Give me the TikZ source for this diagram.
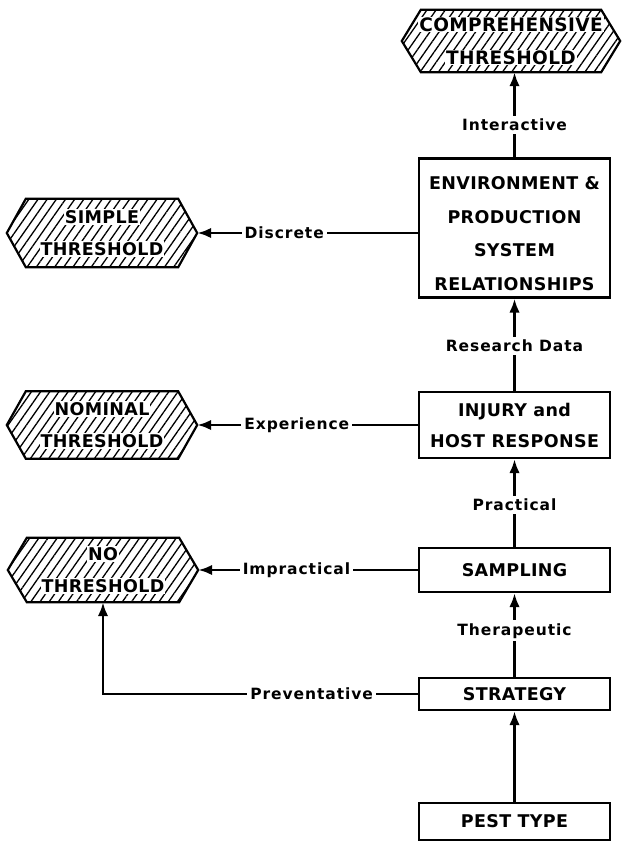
\documentclass[tikz,border=0pt]{standalone}
\usepackage{fontspec}
\setmainfont{DejaVu Sans}
\newfontfamily\lblfont[LetterSpace=6]{DejaVu Sans}
\newfontfamily\boxfnt[LetterSpace=2]{DejaVu Sans}
\usetikzlibrary{arrows.meta,patterns.meta,backgrounds,calc}
\setlength{\fboxsep}{1pt}
\newcommand\wb[1]{\colorbox{white}{#1}}
\newcommand\hexdraw[1]{%
  \path[hexline] ($(#1.north west)+(19pt,0pt)$) -- ($(#1.north east)+(-19pt,0pt)$) -- (#1.east)
    -- ($(#1.south east)+(-19pt,0pt)$) -- ($(#1.south west)+(19pt,0pt)$) -- (#1.west) -- cycle;}
\tikzset{
  pbox/.style={draw, line width=2.2pt, minimum width=191pt, inner sep=0pt, align=center,
    font=\boxfnt\bfseries\fontsize{17.5}{34}\selectfont},
  hexnode/.style={minimum width=190pt, inner sep=0pt, align=center,
    font=\boxfnt\bfseries\fontsize{17.5}{32}\selectfont},
  hexline/.style={draw, line width=2.2pt, line join=miter,
    pattern={Lines[angle=55,distance=7.5pt,line width=1.3pt]}},
  conn/.style={line width=2.8pt},
  arr/.style={conn, -{Latex[length=14pt,width=10.5pt]}},
  lbl/.style={font=\lblfont\bfseries\fontsize{15.5}{17}\selectfont, fill=white, inner sep=3pt},
}
\begin{document}
\begin{tikzpicture}[x=1pt,y=-1pt]
\useasboundingbox (0,0) rectangle (623,842);
% hexagon nodes
\node[hexnode, minimum width=218pt, minimum height=62pt, font=\boxfnt\bfseries\fontsize{18.5}{33}\selectfont] (comp) at (511,41)
  {\wb{COMPREHENSIVE}\\\wb{THRESHOLD}};
\node[hexnode, minimum height=68pt] (simple) at (102,233)
  {\wb{SIMPLE}\\\wb{THRESHOLD}};
\node[hexnode, minimum height=67pt] (nominal) at (102,425)
  {\wb{NOMINAL}\\\wb{THRESHOLD}};
\node[hexnode, minimum height=64pt] (nothr) at (103,570)
  {\wb{NO}\\\wb{THRESHOLD}};
\begin{scope}[on background layer]
  \hexdraw{comp}
  \hexdraw{simple}
  \hexdraw{nominal}
  \hexdraw{nothr}
\end{scope}
% boxes
\node[pbox, minimum height=139pt, font=\boxfnt\bfseries\fontsize{17.5}{33.5}\selectfont] (env) at (514.5,228)
  {\rule{0pt}{24pt}ENVIRONMENT \&\\PRODUCTION\\SYSTEM\\RELATIONSHIPS};
\node[pbox, minimum height=66pt, font=\boxfnt\bfseries\fontsize{17.5}{31}\selectfont] (injury) at (514.5,425)
  {INJURY and\\HOST RESPONSE};
\node[pbox, minimum height=44pt] (sampling) at (514.5,570) {SAMPLING};
\node[pbox, minimum height=32pt] (strategy) at (514.5,694) {STRATEGY};
\node[pbox, minimum height=37pt] (pest) at (514.5,821.5) {PEST TYPE};
% vertical connectors
\draw[arr] (pest.north) -- (strategy.south);
\draw[arr] (strategy.north) -- node[lbl, pos=0.55] {Therapeutic} (sampling.south);
\draw[arr] (sampling.north) -- node[lbl, pos=0.48] {Practical} (injury.south);
\draw[arr] (injury.north) -- node[lbl, pos=0.49] {Research Data} (env.south);
\draw[arr] (env.north) -- node[lbl, pos=0.38] {Interactive} (env.north |- comp.south);
% horizontal connectors
\draw[arr] (simple.east -| env.west) -- node[lbl, pos=0.805, anchor=west] {Discrete} (simple.east);
\draw[arr] (nominal.east -| injury.west) -- node[lbl, pos=0.806, anchor=west] {Experience} (nominal.east);
\draw[arr] (sampling.west) -- node[lbl, pos=0.817, anchor=west] {Impractical} (nothr.east);
\draw[arr] (strategy.west) -- node[lbl, pos=0.546, anchor=west] {Preventative} (strategy.west -| nothr.south) -- (nothr.south);
\end{tikzpicture}
\end{document}
